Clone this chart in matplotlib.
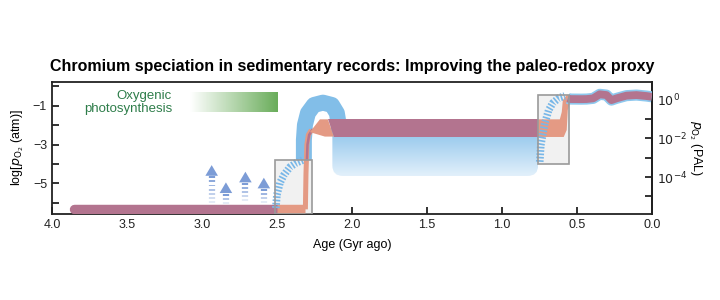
import numpy as np
import matplotlib.pyplot as plt
from matplotlib.patches import Rectangle, Polygon, FancyBboxPatch
from matplotlib.colors import LinearSegmentedColormap
from matplotlib.collections import LineCollection

plt.rcParams['font.family'] = ['Liberation Sans', 'DejaVu Sans']

PAL = np.log10(0.21)   # log pO2 (atm) of present atmospheric level

# --- chart values (age in Gyr ago, log pO2 in atm) ---
archean_age = [3.853, 2.5]
archean_o2 = [-6.34, -6.34]

goe_bar_age = [2.5, 2.31]
goe_bar_o2 = [-6.34, -6.34]
goe_rise_age = [2.31, 2.306, 2.30, 2.29, 2.27]
goe_rise_o2 = [-6.34, -4.5, -3.0, -2.5, -2.25]
goe_thin_age = [2.30, 2.296, 2.285, 2.26]
goe_thin_o2 = [-3.8, -3.0, -2.5, -2.2]
goe_wedge_age = [2.28, 2.213, 2.16, 2.12, 2.18]
goe_wedge_o2 = [-2.36, -1.70, -1.70, -2.59, -2.59]

prot_age = [2.16, 0.758, 0.758, 2.12]
prot_o2 = [-1.70, -1.70, -2.59, -2.59]

noe_age = [0.758, 0.613, 0.60, 0.593, 0.567, 0.547, 0.547, 0.56, 0.567, 0.587, 0.758]
noe_o2 = [-1.70, -1.70, -1.32, -0.71, -0.45, -0.45, -0.86, -1.22, -2.25, -2.61, -2.61]

phan_age = [0.56, 0.547, 0.47, 0.435, 0.391, 0.347, 0.302, 0.269, 0.235, 0.169, 0.102, 0.035, 0.0]
phan_o2 = [-0.62, -0.655, -0.66, -0.655, -0.62, -0.41, -0.45, -0.71, -0.62, -0.48, -0.45, -0.5, -0.54]

arch_age = [2.32, 2.32, 2.313, 2.293, 2.253, 2.193, 2.133, 2.10, 2.087, 2.087]
arch_o2 = [-3.80, -2.77, -1.99, -1.38, -0.96, -0.84, -0.96, -1.38, -1.99, -2.5]

# blue range of older estimates (age span, o2 span)
blue_age = [0.758, 2.13]
blue_o2 = [-4.62, -2.0]

arc1_age = [2.507, 2.50, 2.48, 2.453, 2.413, 2.373, 2.327]
arc1_o2 = [-6.27, -5.60, -4.98, -4.57, -4.16, -3.95, -3.80]
arc2_age = [0.747, 0.74, 0.713, 0.687, 0.66, 0.62, 0.58]
arc2_o2 = [-3.89, -3.03, -1.89, -1.22, -0.86, -0.60, -0.50]

arrow_age = [2.935, 2.84, 2.71, 2.587]
arrow_tip = [-4.06, -4.95, -4.40, -4.71]
arrow_base = -6.0

box_age = [(2.515, 2.265), (0.758, 0.551)]
box_o2 = [(-6.58, -3.8), (-4.0, -0.45)]

photo_age = [3.08, 2.498]
photo_o2 = [-1.34, -0.31]

purple = '#b3748f'
salmon = '#e49a84'
blue = '#82bee8'
arrow_c = '#7c9cd6'

fig = plt.figure(figsize=(7.2, 3.0), dpi=100)
ax = fig.add_axes([0.0722, 0.2867, 0.8330, 0.4410])
ax.set_xlim(4.0, 0.0)
ax.set_ylim(-6.58, 0.24)

# grey boxes
for (a0, a1), (o0, o1) in zip(box_age, box_o2):
    ax.add_patch(Rectangle((a1, o0), a0 - a1, o1 - o0, facecolor='#f1f1f1', edgecolor='none', zorder=1))
    ax.add_patch(Rectangle((a1, o0), a0 - a1, o1 - o0, facecolor='none', edgecolor='#9a9a9a', lw=1.2, zorder=9))

# oxygenic photosynthesis bar
gcmap = LinearSegmentedColormap.from_list('g', ['#ffffff', '#6aad5b'])
ax.imshow(np.linspace(0, 1, 100).reshape(1, -1), cmap=gcmap, aspect='auto',
          extent=[photo_age[0], photo_age[1], photo_o2[0], photo_o2[1]], zorder=1)
ax.text(3.2, -0.85, 'Oxygenic\nphotosynthesis', ha='right', va='center', color='#2e7d4a',
        fontsize=9.5, linespacing=1.1)

# blue gradient region
bcmap = LinearSegmentedColormap.from_list('b', ['#88c1ea', '#e2f0fb'])
im = ax.imshow(np.linspace(0, 1, 100).reshape(-1, 1), cmap=bcmap, aspect='auto',
               extent=[blue_age[1], blue_age[0], blue_o2[0], blue_o2[1]], zorder=2)
clip = FancyBboxPatch((blue_age[0], blue_o2[0]), blue_age[1] - blue_age[0], blue_o2[1] - blue_o2[0],
                      boxstyle='round,pad=0,rounding_size=0.07', mutation_aspect=7.7,
                      transform=ax.transData, facecolor='none', edgecolor='none')
ax.add_patch(clip)
im.set_clip_path(clip)

# blue arch
ax.plot(arch_age, arch_o2, color=blue, lw=11.5, solid_capstyle='butt', solid_joinstyle='round', zorder=3)

# arrows
for a, tip in zip(arrow_age, arrow_tip):
    base = tip - 0.55
    ys = np.arange(base - 0.03, arrow_base, -0.21)
    segs = [[(a, y), (a, y - 0.1)] for y in ys]
    alphas = np.linspace(1.0, 0.2, len(segs))
    cols = [(0.486, 0.612, 0.839, al) for al in alphas]
    ax.add_collection(LineCollection(segs, colors=cols, linewidths=4.5, capstyle='butt', zorder=3))
    ax.add_patch(Polygon([(a + 0.042, base), (a - 0.042, base), (a, tip)], closed=True,
                         facecolor=arrow_c, edgecolor='none', zorder=3))

# Archean baseline
ax.plot(archean_age, archean_o2, color=purple, lw=6.8, solid_capstyle='round', zorder=4)

# GOE step
ax.plot(goe_bar_age, goe_bar_o2, color=salmon, lw=6.8, solid_capstyle='butt', zorder=5)
ax.plot(goe_rise_age, goe_rise_o2, color=salmon, lw=3.6, solid_capstyle='butt', zorder=5)
ax.plot(goe_thin_age, goe_thin_o2, color=purple, lw=1.8, solid_capstyle='butt', zorder=5)
ax.add_patch(Polygon(list(zip(goe_wedge_age, goe_wedge_o2)), closed=True, facecolor=salmon,
                     edgecolor='none', zorder=5))

# Proterozoic band
ax.add_patch(Polygon(list(zip(prot_age, prot_o2)), closed=True, facecolor=purple,
                     edgecolor='none', zorder=5))

# NOE step
ax.add_patch(Polygon(list(zip(noe_age, noe_o2)), closed=True, facecolor=salmon,
                     edgecolor='none', zorder=5))

# Phanerozoic
ax.plot(phan_age, phan_o2, color='#8ec8ee', lw=8.0, solid_capstyle='butt', solid_joinstyle='round', zorder=6)
ax.plot(phan_age, phan_o2, color=purple, lw=5.6, solid_capstyle='butt', solid_joinstyle='round', zorder=7)

# dotted arcs (older estimates)
for xs, ys in [(arc1_age, arc1_o2), (arc2_age, arc2_o2)]:
    ax.plot(xs, ys, color='#78b7e8', lw=5.5, linestyle=(0, (0.22, 0.22)), dash_capstyle='butt', zorder=8)

# axes styling
ax.set_xticks(np.arange(4.0, -0.01, -0.5))
ax.set_xticklabels(['%.1f' % v for v in np.arange(4.0, -0.01, -0.5)])
ax.set_yticks([-1, -3, -5])
ax.set_yticklabels(['\u22121', '\u22123', '\u22125'])
ax.set_yticks([0, -2, -4, -6], minor=True)
ax.tick_params(which='both', direction='in', length=5, width=1.3, labelsize=9, colors='#222222')
ax.tick_params(axis='y', which='both', right=False)
for s in ax.spines.values():
    s.set_linewidth(1.3)
    s.set_color('#222222')
ax.set_xlabel('Age (Gyr ago)', fontsize=9, labelpad=6)
ax.set_ylabel(r'log[$p_{\mathrm{O_2}}$ (atm)]', fontsize=9, labelpad=5)

sec = ax.secondary_yaxis('right', functions=(lambda y: y - PAL, lambda y: y + PAL))
sec.set_yticks([0, -2, -4])
sec.set_yticklabels([r'$10^{0}$', r'$10^{-2}$', r'$10^{-4}$'])
sec.set_yticks([-1, -3, -5], minor=True)
sec.tick_params(which='both', direction='in', length=5, width=1.3, labelsize=9, colors='#222222')
sec.spines['right'].set_linewidth(1.3)
sec.set_ylabel(r'$p_{\mathrm{O_2}}$ (PAL)', fontsize=9, rotation=270, labelpad=12)

fig.text(0.489, 0.777, 'Chromium speciation in sedimentary records: Improving the paleo-redox proxy',
         ha='center', va='center', fontsize=11.5, fontweight='bold')

fig.savefig('out.png', dpi=100)
